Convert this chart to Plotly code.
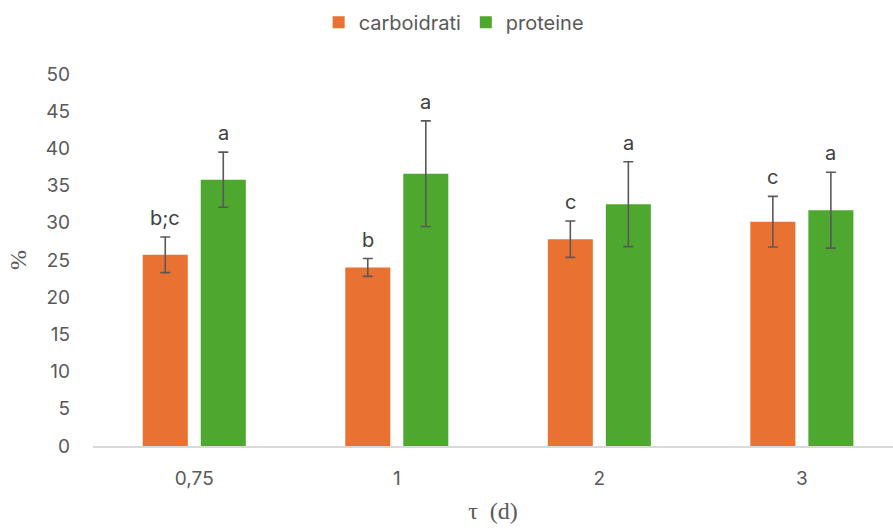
import plotly.graph_objects as go

# Durations (days) on the category axis
categories = ["0,75", "1", "2", "3"]

# Mean percentages and standard deviations
carb_values = [25.7, 24.0, 27.8, 30.15]
carb_errors = [2.4, 1.2, 2.45, 3.4]
carb_letters = ["b;c", "b", "c", "c"]

prot_values = [35.8, 36.6, 32.5, 31.7]
prot_errors = [3.7, 7.1, 5.7, 5.1]
prot_letters = ["a", "a", "a", "a"]

y_ticks = list(range(0, 55, 5))

ORANGE = "#E97132"
GREEN = "#4EA72E"
GREY = "#595959"
SANS = "Inter, Liberation Sans, sans-serif"
SERIF = "Liberation Serif, DejaVu Serif, serif"

err_style = dict(type="data", visible=True, color=GREY, thickness=1.6, width=5)

fig = go.Figure()
fig.add_trace(go.Bar(
    name="carboidrati", x=categories, y=carb_values,
    marker=dict(color=ORANGE, line=dict(width=0)),
    error_y=dict(array=carb_errors, **err_style),
))
fig.add_trace(go.Bar(
    name="proteine", x=categories, y=prot_values,
    marker=dict(color=GREEN, line=dict(width=0)),
    error_y=dict(array=prot_errors, **err_style),
))

# Significance letters above each error bar
bargap = 0.427
offset = (1 - bargap) / 4
for i in range(len(categories)):
    for dx, vals, errs, labels in (
        (-offset, carb_values, carb_errors, carb_letters),
        (offset, prot_values, prot_errors, prot_letters),
    ):
        fig.add_annotation(
            x=i + dx, y=vals[i] + errs[i], xref="x", yref="y",
            text=labels[i], showarrow=False, yanchor="middle", yshift=19,
            font=dict(family=SANS, size=20, color="#404040"),
        )

fig.update_layout(
    width=893, height=530,
    margin=dict(l=93, r=0, t=74, b=84),
    paper_bgcolor="white", plot_bgcolor="white",
    barmode="group", bargap=bargap, bargroupgap=0.224,
    showlegend=True,
    legend=dict(
        orientation="h", xref="container", yref="container",
        x=0.508, xanchor="center", y=0.958, yanchor="middle",
        font=dict(family=SANS, size=20, color=GREY),
        itemwidth=30, traceorder="normal",
    ),
    xaxis=dict(
        type="category", range=[-0.5, 3.45],
        showgrid=False, showline=True, linecolor="#D9D9D9", linewidth=1.5,
        ticks="", ticklabelstandoff=14,
        tickfont=dict(family=SANS, size=19, color=GREY),
        title=dict(text="τ  (d)", font=dict(family=SERIF, size=24, color=GREY), standoff=14),
    ),
    yaxis=dict(
        range=[0, 50], tickvals=y_ticks, showgrid=False, zeroline=False,
        showline=False, ticks="", ticklabelstandoff=22,
        tickfont=dict(family=SANS, size=19, color=GREY),
        title=dict(text="%", font=dict(family=SERIF, size=24, color=GREY), standoff=12),
    ),
)

fig.write_html("out.html")
